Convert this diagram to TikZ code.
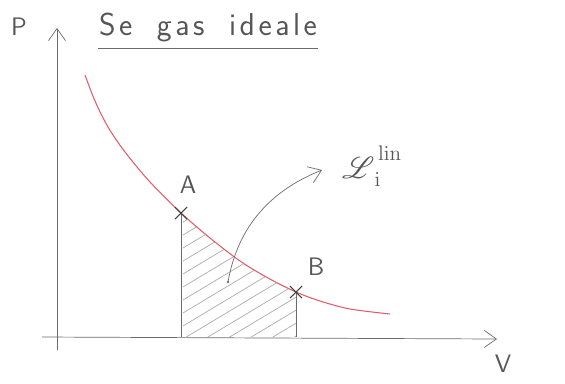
\documentclass[tikz,border=0pt]{standalone}
\usepackage{mathrsfs}
\usepackage{xcolor}
\definecolor{pencil}{HTML}{6B6B6B}
\definecolor{redpen}{HTML}{E25C6A}
\usetikzlibrary{arrows.meta,positioning,shapes.misc}

\begin{document}
\begin{tikzpicture}[x=0.02cm,y=-0.02cm,
  ax/.style={pencil,thin,-{Straight Barb[length=2.4mm,width=3.4mm]}},
  lbl/.style={text=pencil!80!black,font=\sffamily\Large},
  pt/.style={cross out,draw=pencil!60!black,semithick,minimum size=2.2mm,inner sep=0pt},
  hatch/.style={pencil!55,thin},
  wall/.style={pencil,thin}]
  \useasboundingbox (0,0) rectangle (565,383);
  % axes
  \coordinate (O) at (57,337);
  \coordinate (ybot) at (57,350);
  \coordinate (ytop) at (57,28);
  \coordinate (xleft) at (42,337);
  \coordinate (xright) at (497,339);
  \draw[ax] (ybot) -- (ytop);
  \draw[ax] (xleft) -- (xright);
  \node[lbl] (Plabel) at (19,27) {P};
  \node[lbl] (Vlabel) at (503,364) {V};
  % title
  \node[lbl,font=\sffamily\fontsize{18}{20}\selectfont] (title) at (208,27)
    {S\kern2pt e\hspace{14pt}g\kern2pt a\kern2pt s\hspace{14pt}i\kern2pt d\kern2pt e\kern2pt a\kern2pt l\kern2pt e};
  \draw[wall] (98,48) -- (318,48);
  % states
  \coordinate (A) at (181,213);
  \coordinate (B) at (296,292);
  % hatched work area
  \begin{scope}
    \clip (A|-80,200) rectangle (B|-O);
    \clip plot[smooth,tension=0.5] coordinates {(85,75) (95,101) (108,127) (125,152) (150,182) (A)
      (210,238) (240,261) (268,278) (B) (320,301) (350,309) (390,314)}
      -- (390,337) -- (85,337) -- cycle;
    \foreach \s in {222,235,...,430}
      \draw[hatch] (183,\s) -- ++(140,-84);
  \end{scope}
  \draw[wall] (A) -- (A|-O);
  \draw[wall] (B) -- (B|-O);
  % isotherm
  \draw[redpen,semithick] plot[smooth,tension=0.5] coordinates
    {(85,75) (95,101) (108,127) (125,152) (150,182) (A)
      (210,238) (240,261) (268,278) (B) (320,301) (350,309) (390,314)};
  \node[pt] (Amark) at (A) {};
  \node[pt] (Bmark) at (B) {};
  \node[lbl] (Alabel) at (188,185) {A};
  \node[lbl] (Blabel) at (316,267) {B};
  % work label
  \coordinate (dot) at (228,282);
  \coordinate (tip) at (322,170);
  \fill[pencil] (dot) circle (1.3);
  \node[text=pencil!80!black,font=\LARGE,anchor=west] (Llabel) at (336,166)
    {$\mathscr{L}{}_{\mathrm{i}}^{\raisebox{4pt}{$\scriptstyle\,\mathrm{lin}$}}$};
  \draw[pencil,thin,-{Straight Barb[length=2.4mm,width=3.4mm]}] (dot) .. controls (238,225) and (272,190) .. (tip);
\end{tikzpicture}
\end{document}
